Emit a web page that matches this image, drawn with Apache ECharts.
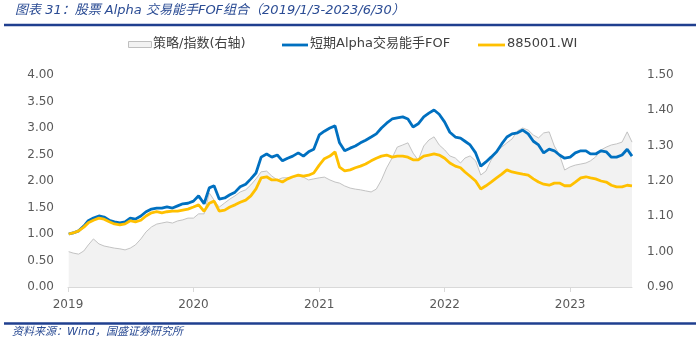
<!DOCTYPE html>
<html>
<head>
<meta charset="utf-8">
<script src="https://cdn.jsdelivr.net/npm/echarts@6/dist/echarts.min.js"></script>
<style>
html,body{margin:0;padding:0;background:#fff;}
#c{width:700px;height:346px;}
</style>
</head>
<body>
<div id="c"></div>
<script>
// ---- data (semi-monthly) ----
const dates = [
 '2019-01-03','2019-01-16','2019-02-01','2019-02-16','2019-03-01','2019-03-16','2019-04-01','2019-04-16','2019-05-01','2019-05-16','2019-06-01','2019-06-16',
 '2019-07-01','2019-07-16','2019-08-01','2019-08-16','2019-09-01','2019-09-16','2019-10-01','2019-10-16','2019-11-01','2019-11-16','2019-12-01','2019-12-16',
 '2020-01-01','2020-01-16','2020-02-01','2020-02-16','2020-03-01','2020-03-16','2020-04-01','2020-04-16','2020-05-01','2020-05-16','2020-06-01','2020-06-16',
 '2020-07-01','2020-07-16','2020-08-01','2020-08-16','2020-09-01','2020-09-16','2020-10-01','2020-10-16','2020-11-01','2020-11-16','2020-12-01','2020-12-16',
 '2021-01-01','2021-01-16','2021-02-01','2021-02-16','2021-03-01','2021-03-16','2021-04-01','2021-04-16','2021-05-01','2021-05-16','2021-06-01','2021-06-16',
 '2021-07-01','2021-07-16','2021-08-01','2021-08-16','2021-09-01','2021-09-16','2021-10-01','2021-10-16','2021-11-01','2021-11-16','2021-12-01','2021-12-16',
 '2022-01-01','2022-01-16','2022-02-01','2022-02-16','2022-03-01','2022-03-16','2022-04-01','2022-04-16','2022-05-01','2022-05-16','2022-06-01','2022-06-16',
 '2022-07-01','2022-07-16','2022-08-01','2022-08-16','2022-09-01','2022-09-16','2022-10-01','2022-10-16','2022-11-01','2022-11-16','2022-12-01','2022-12-16',
 '2023-01-01','2023-01-16','2023-02-01','2023-02-16','2023-03-01','2023-03-16','2023-04-01','2023-04-16','2023-05-01','2023-05-16','2023-06-01','2023-06-16',
 '2023-06-30'
];
// 短期Alpha交易能手FOF (left axis)
const fofValues = [
 1.00,1.02,1.06,1.15,1.25,1.30,1.34,1.32,1.26,1.23,1.21,1.23,
 1.30,1.28,1.34,1.42,1.47,1.49,1.49,1.51,1.49,1.53,1.57,1.58,
 1.62,1.72,1.57,1.87,1.91,1.66,1.68,1.74,1.79,1.89,1.94,2.04,
 2.15,2.45,2.51,2.45,2.49,2.38,2.43,2.47,2.53,2.47,2.55,2.60,
 2.87,2.94,3.00,3.04,2.72,2.57,2.62,2.66,2.72,2.77,2.83,2.89,
 3.00,3.09,3.17,3.19,3.21,3.17,3.02,3.08,3.21,3.28,3.34,3.26,
 3.11,2.92,2.83,2.81,2.75,2.68,2.53,2.28,2.36,2.45,2.55,2.70,
 2.83,2.89,2.91,2.96,2.89,2.75,2.68,2.53,2.60,2.57,2.49,2.43,
 2.45,2.53,2.57,2.57,2.51,2.51,2.57,2.55,2.45,2.45,2.49,2.60,
 2.47
];
// 885001.WI (left axis)
const idxValues = [
 1.00,1.02,1.06,1.13,1.21,1.26,1.30,1.28,1.23,1.19,1.17,1.19,
 1.25,1.23,1.26,1.34,1.40,1.42,1.40,1.42,1.43,1.43,1.45,1.47,
 1.51,1.55,1.43,1.58,1.62,1.43,1.45,1.51,1.55,1.60,1.64,1.72,
 1.85,2.06,2.08,2.02,2.02,1.98,2.04,2.08,2.11,2.09,2.11,2.15,
 2.30,2.42,2.47,2.55,2.26,2.19,2.21,2.25,2.28,2.32,2.38,2.43,
 2.47,2.49,2.45,2.47,2.47,2.45,2.40,2.40,2.47,2.49,2.51,2.49,
 2.43,2.34,2.28,2.25,2.17,2.09,2.00,1.85,1.91,1.98,2.06,2.13,
 2.21,2.17,2.15,2.13,2.11,2.04,1.98,1.94,1.92,1.96,1.96,1.91,
 1.91,1.98,2.06,2.08,2.06,2.04,2.00,1.98,1.92,1.89,1.89,1.92,
 1.91
];
// 策略/指数 (right axis)
const ratioValues = [
 1.000,0.996,0.993,1.002,1.019,1.036,1.022,1.016,1.013,1.010,1.008,1.005,
 1.010,1.019,1.036,1.056,1.070,1.078,1.081,1.084,1.081,1.087,1.090,1.095,
 1.095,1.107,1.107,1.166,1.146,1.126,1.138,1.149,1.158,1.169,1.175,1.189,
 1.206,1.226,1.228,1.214,1.203,1.209,1.209,1.211,1.214,1.211,1.203,1.206,
 1.209,1.211,1.203,1.197,1.194,1.186,1.180,1.177,1.175,1.172,1.169,1.177,
 1.203,1.237,1.265,1.296,1.302,1.308,1.279,1.259,1.299,1.316,1.325,1.302,
 1.288,1.271,1.265,1.251,1.265,1.271,1.257,1.217,1.228,1.259,1.282,1.296,
 1.308,1.319,1.342,1.350,1.344,1.330,1.322,1.336,1.339,1.299,1.274,1.231,
 1.240,1.245,1.248,1.251,1.257,1.268,1.288,1.296,1.302,1.305,1.310,1.339,
 1.310
];
const leftTicks = {min: 0, max: 4, interval: 0.5};
const rightTicks = {min: 0.9, max: 1.5, interval: 0.1};
const names = ['策略/指数(右轴)', '短期Alpha交易能手FOF', '885001.WI'];
const titleText = '图表 31：股票 Alpha 交易能手FOF组合（2019/1/3-2023/6/30）';
const sourceText = '资料来源：Wind，国盛证券研究所';

const pair = (vals) => dates.map((d, i) => [d, vals[i]]);
const FONT = 'DejaVu Sans, "Noto Sans CJK SC", sans-serif';
const chart = echarts.init(document.getElementById('c'), null, {renderer: 'canvas'});
const lblColor = '#595959';
const navy = '#1f3f8f';

chart.setOption({
  animation: false,
  backgroundColor: '#fff',
  grid: {left: 68, right: 68, top: 75, bottom: 59},
  xAxis: {
    type: 'time',
    min: '2019-01-01',
    max: '2023-06-30',
    minInterval: 365 * 86400000,
    maxInterval: 366 * 86400000,
    axisLine: {show: true, lineStyle: {color: '#d9d9d9', width: 1}},
    axisTick: {show: true, length: 5, lineStyle: {color: '#d9d9d9'}},
    splitLine: {show: false},
    axisLabel: {
      color: lblColor, fontSize: 12, fontFamily: FONT, margin: 12,
      showMinLabel: true, showMaxLabel: false,
      formatter: (v) => String(new Date(v).getFullYear())
    }
  },
  yAxis: [
    {
      type: 'value', min: leftTicks.min, max: leftTicks.max, interval: leftTicks.interval,
      axisLine: {show: false}, axisTick: {show: false}, splitLine: {show: false},
      axisLabel: {color: lblColor, fontSize: 12, fontFamily: FONT, margin: 14, formatter: (v) => v.toFixed(2)}
    },
    {
      type: 'value', min: rightTicks.min, max: rightTicks.max, interval: rightTicks.interval,
      axisLine: {show: false}, axisTick: {show: false}, splitLine: {show: false},
      axisLabel: {color: lblColor, fontSize: 12, fontFamily: FONT, margin: 15, formatter: (v) => v.toFixed(2)}
    }
  ],
  series: [
    {
      name: names[0], type: 'line', yAxisIndex: 1, data: pair(ratioValues),
      showSymbol: false, symbol: 'none',
      lineStyle: {color: '#c3c3c3', width: 1},
      areaStyle: {color: '#f2f2f2', opacity: 1, origin: 'start'},
      z: 1
    },
    {
      name: names[1], type: 'line', yAxisIndex: 0, data: pair(fofValues),
      showSymbol: false, symbol: 'none',
      lineStyle: {color: '#0070c0', width: 2.8},
      z: 3
    },
    {
      name: names[2], type: 'line', yAxisIndex: 0, data: pair(idxValues),
      showSymbol: false, symbol: 'none',
      lineStyle: {color: '#ffc000', width: 2.8},
      z: 4
    }
  ],
  graphic: [
    {type: 'text', left: 15, top: 4, style: {text: titleText, fill: '#2b4c94', fontSize: 13, fontStyle: 'italic', fontFamily: FONT}},
    {type: 'line', shape: {x1: 4, y1: 25, x2: 696, y2: 25}, style: {stroke: navy, lineWidth: 2.5}},
    {type: 'line', shape: {x1: 4, y1: 323.5, x2: 696, y2: 323.5}, style: {stroke: navy, lineWidth: 2.5}},
    {type: 'text', left: 12, top: 327, style: {text: sourceText, fill: '#2b4c94', fontSize: 11, fontStyle: 'italic', fontFamily: FONT}},
    // legend
    {type: 'rect', shape: {x: 128.5, y: 41.5, width: 23, height: 6}, style: {fill: '#f2f2f2', stroke: '#bfbfbf', lineWidth: 1}},
    {type: 'text', left: 153, top: 37, style: {text: names[0], fill: '#404040', fontSize: 13, fontFamily: FONT}},
    {type: 'line', shape: {x1: 282, y1: 45, x2: 308, y2: 45}, style: {stroke: '#0070c0', lineWidth: 2.8}},
    {type: 'text', left: 310, top: 37, style: {text: names[1], fill: '#404040', fontSize: 13, fontFamily: FONT}},
    {type: 'line', shape: {x1: 478, y1: 45, x2: 505, y2: 45}, style: {stroke: '#ffc000', lineWidth: 2.8}},
    {type: 'text', left: 507, top: 37, style: {text: names[2], fill: '#404040', fontSize: 13, fontFamily: FONT}}
  ]
});
</script>
</body>
</html>
